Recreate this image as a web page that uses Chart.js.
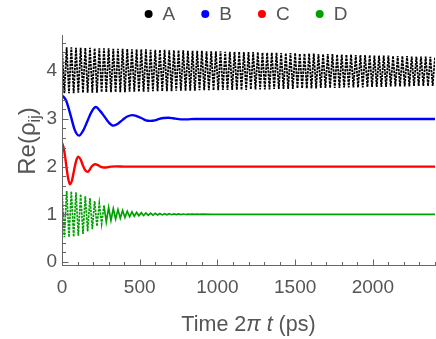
<!DOCTYPE html>
<html><head><meta charset="utf-8">
<script src="https://cdn.jsdelivr.net/npm/chart.js@4.4.0/dist/chart.umd.min.js"></script>
<style>html,body{margin:0;padding:0;background:#fff;}</style>
</head><body>
<canvas id="c" width="436" height="339"></canvas>
<script>
const seriesNames = ['A', 'B', 'C', 'D'];
const seriesColors = ['#000000', '#0000ff', '#ff0000', '#00a000'];
const xTicks = [0, 500, 1000, 1500, 2000];
const yTicks = [0, 1, 2, 3, 4];

const tA = [0,15,30,45,60,75,90,105,120,135,150,165,180,195,210,225,240,255,270,285,300,315,330,345,360,375,390,405,420,435,450,465,480,495,510,525,540,555,570,585,600,615,630,645,660,675,690,705,720,735,750,765,780,795,810,825,840,855,870,885,900,915,930,945,960,975,990,1005,1020,1035,1050,1065,1080,1095,1110,1125,1140,1155,1170,1185,1200,1215,1230,1245,1260,1275,1290,1305,1320,1335,1350,1365,1380,1395,1410,1425,1440,1455,1470,1485,1500,1515,1530,1545,1560,1575,1590,1605,1620,1635,1650,1665,1680,1695,1710,1725,1740,1755,1770,1785,1800,1815,1830,1845,1860,1875,1890,1905,1920,1935,1950,1965,1980,1995,2010,2025,2040,2055,2070,2085,2100,2115,2130,2145,2160,2175,2190,2205,2220,2235,2250,2265,2280,2295,2310,2325,2340,2355,2370,2385,2400];
const vA = [
 4.50,3.54, 4.50,3.54, 4.50,3.54, 4.49,3.55, 4.49,3.55, 4.49,3.55, 4.49,3.55, 4.48,3.55, 4.48,3.56, 4.48,3.56,
 4.48,3.56, 4.47,3.56, 4.47,3.56, 4.47,3.56, 4.47,3.57, 4.46,3.57, 4.46,3.57, 4.46,3.57, 4.46,3.57, 4.45,3.58,
 4.45,3.58, 4.45,3.58, 4.45,3.58, 4.44,3.58, 4.44,3.59, 4.44,3.59, 4.44,3.59, 4.43,3.59, 4.43,3.59, 4.43,3.60,
 4.43,3.60, 4.42,3.60, 4.42,3.60, 4.42,3.60, 4.42,3.61, 4.41,3.61, 4.41,3.61, 4.41,3.61, 4.41,3.61, 4.40,3.61,
 4.40,3.62, 4.40,3.62, 4.40,3.62, 4.39,3.62, 4.39,3.62, 4.39,3.63, 4.39,3.63, 4.38,3.63, 4.38,3.63, 4.38,3.63,
 4.38,3.64, 4.37,3.64, 4.37,3.64, 4.37,3.64, 4.37,3.64, 4.36,3.65, 4.36,3.65, 4.36,3.65, 4.36,3.65, 4.35,3.65,
 4.35,3.66, 4.35,3.66, 4.35,3.66, 4.34,3.66, 4.34,3.66, 4.34,3.67, 4.34,3.67, 4.33,3.67, 4.33,3.67, 4.33,3.67,
 4.33,3.68, 4.32,3.68, 4.32,3.68, 4.32,3.68, 4.32,3.68, 4.31,3.69, 4.31,3.69, 4.31,3.69, 4.31,3.69, 4.30,3.69,
 4.30
];

const tB = [0,27,55,82,109,137,163,190,218,245,273,300,330,360,390,420,452,480,510,540,568,597,626,655,684,715,745,775,805,850,1000,1200,1500,2000,2400];
const vB = [3.50,3.38,3.08,2.77,2.65,2.76,2.95,3.15,3.25,3.17,3.05,2.93,2.86,2.90,2.98,3.05,3.08,3.06,3.02,2.97,2.96,2.97,3.00,3.02,3.025,3.015,3.00,2.99,2.99,3.0,3.0,3.0,3.0,3.0,3.0];

const tC = [0,13,26,39,51,65,78,92,105,120,134,148,163,177,190,203,216,232,247,262,277,295,315,350,400,600,1000,1500,2000,2400];
const vC = [2.50,2.36,2.06,1.76,1.63,1.72,1.93,2.13,2.21,2.15,2.03,1.93,1.89,1.93,2.00,2.04,2.05,2.03,2.00,1.985,1.98,1.99,2.0,2.005,2.0,2.0,2.0,2.0,2.0,2.0];

const tD = [0,15,30,45,60,75,90,105,120,135,150,165,180,195,210,225,240,255,270,285,300,315,330,345,360,375,390,405,420,435,450,465,480,495,510,525,540,555,570,585,600,615,630,645,660,675,690,705,720,735,750,765,780,795,810,825,840,855,870,885,900,960,1500,2000,2400];
const vD = [
 1.50,0.52,1.49,0.52,1.48,0.53,1.46,0.55,1.42,0.59,
 1.38,0.64,1.34,0.69,1.28,0.75,1.23,0.80,1.18,0.84,
 1.14,0.87,1.12,0.90,1.10,0.92,1.08,0.935,1.065,0.948,
 1.05,0.96,1.04,0.968,1.033,0.974,1.028,0.979,1.023,0.983,
 1.02,0.986,1.017,0.988,1.014,0.99,1.012,0.992,1.01,0.993,
 1.008,0.995,1.006,0.996,1.005,0.997,1.004,0.998,1.003,0.998,
 1.002,1.0,1.0,1.0,1.0
];

const FONT = "'Liberation Sans', Arial, sans-serif";
const TEXT = '#555555';
const AXIS = '#666666';

function pts(t, v) { return t.map((x, i) => ({ x: x, y: v[i] })); }

const axesPlugin = {
  id: 'axesDraw',
  afterDraw(chart) {
    const ctx = chart.ctx;
    const x = chart.scales.x, y = chart.scales.y;
    const ca = chart.chartArea;
    ctx.save();
    ctx.strokeStyle = AXIS;
    ctx.lineWidth = 1;
    const x0 = Math.round(x.getPixelForValue(0)) + 0.5;
    const yb = Math.round(ca.bottom) + 0.5;
    ctx.beginPath();
    ctx.moveTo(x0, yb); ctx.lineTo(x0, ca.top);
    ctx.moveTo(ca.left, yb); ctx.lineTo(chart.width, yb);
    for (let k = 0; k <= 23; k++) {
      const v = k * 0.2;
      const p = Math.round(y.getPixelForValue(v)) + 0.5;
      const len = (k % 5 === 0) ? 6 : 3.5;
      ctx.moveTo(x0, p); ctx.lineTo(x0 + len, p);
    }
    for (let k = 0; k <= 24; k++) {
      const v = k * 100;
      const p = Math.round(x.getPixelForValue(v)) + 0.5;
      const len = (k % 5 === 0) ? 6 : 3.5;
      ctx.moveTo(p, yb); ctx.lineTo(p, yb - len);
    }
    ctx.stroke();

    // legend
    ctx.font = '19px ' + FONT;
    ctx.textBaseline = 'middle';
    ctx.textAlign = 'left';
    const items = chart.data.datasets.map(d => ({ label: d.label, color: d.legendColor }));
    let total = 0;
    items.forEach((it, i) => { it.w = ctx.measureText(it.label).width; total += 14 + it.w + (i < items.length - 1 ? 30 : 0); });
    let cx = 246 - (total + 4) / 2 + 4;
    items.forEach(it => {
      ctx.fillStyle = it.color;
      ctx.beginPath(); ctx.arc(cx, 14, 4, 0, Math.PI * 2); ctx.fill();
      ctx.fillStyle = TEXT;
      ctx.fillText(it.label, cx + 14, 15);
      cx += 14 + it.w + 30;
    });

    // x title
    ctx.textBaseline = 'alphabetic';
    const big = '21.5px ' + FONT, bigI = 'italic 21.5px ' + FONT;
    const parts = [['Time 2', big], ['\u03C0', bigI], [' ', big], ['t', bigI], [' (ps)', big]];
    let tw = 0;
    parts.forEach(p => { ctx.font = p[1]; p.w = ctx.measureText(p[0]).width; tw += p.w; });
    let tx = (ca.left + ca.right) / 2 - tw / 2;
    ctx.fillStyle = TEXT;
    parts.forEach(p => { ctx.font = p[1]; ctx.fillText(p[0], tx, 331); tx += p.w; });

    // y title
    ctx.save();
    ctx.translate(35, 141);
    ctx.rotate(-Math.PI / 2);
    const ybig = '24px ' + FONT;
    const small = '16px ' + FONT;
    const yparts = [['Re(\u03C1', ybig, 0], ['ij', small, 5], [')', ybig, 0]];
    let yw = 0;
    yparts.forEach(p => { ctx.font = p[1]; p.w = ctx.measureText(p[0]).width; yw += p.w; });
    let yx = -yw / 2;
    yparts.forEach(p => { ctx.font = p[1]; ctx.fillText(p[0], yx, p[2]); yx += p.w; });
    ctx.restore();

    ctx.restore();
  }
};

const dashA = [2.5, 1];
const dashD = [2.5, 1];
new Chart(document.getElementById('c'), {
  type: 'line',
  data: {
    datasets: [
      { label: seriesNames[0], legendColor: seriesColors[0], data: pts(tA, vA), borderColor: seriesColors[0], borderWidth: 1.8, borderDash: dashA, pointRadius: 0, tension: 0, fill: false },
      { label: seriesNames[1], legendColor: seriesColors[1], data: pts(tB, vB), borderColor: seriesColors[1], borderWidth: 2.4, pointRadius: 0, cubicInterpolationMode: 'monotone', fill: false },
      { label: seriesNames[2], legendColor: seriesColors[2], data: pts(tC, vC), borderColor: seriesColors[2], borderWidth: 2.4, pointRadius: 0, cubicInterpolationMode: 'monotone', fill: false },
      { label: seriesNames[3], legendColor: seriesColors[3], data: pts(tD, vD), borderColor: seriesColors[3], borderWidth: 1.7, pointRadius: 0, tension: 0, fill: false,
        segment: { borderDash: c => (c.p0DataIndex < 18 ? dashD : undefined) } }
    ]
  },
  options: {
    responsive: false,
    animation: false,
    devicePixelRatio: 1,
    layout: { padding: { left: 0, right: 1, top: 35, bottom: 0 } },
    plugins: { legend: { display: false }, tooltip: { enabled: false } },
    scales: {
      x: {
        type: 'linear', min: 0, max: 2400,
        border: { display: false },
        grid: { display: false, drawTicks: false, tickLength: 0 },
        afterBuildTicks: s => { s.ticks = xTicks.map(v => ({ value: v })); },
        afterFit: s => { s.height = 74; },
        ticks: { padding: 11, color: TEXT, font: { family: FONT, size: 19 }, maxRotation: 0, autoSkip: false, callback: v => String(v) }
      },
      y: {
        type: 'linear', min: -0.063, max: 4.76,
        border: { display: false },
        grid: { display: false, drawTicks: false, tickLength: 0 },
        afterBuildTicks: s => { s.ticks = yTicks.map(v => ({ value: v })); },
        afterFit: s => { s.width = 62; },
        ticks: { padding: 5, color: TEXT, font: { family: FONT, size: 19 }, callback: v => String(v) }
      }
    }
  },
  plugins: [axesPlugin]
});
</script>
</body></html>
